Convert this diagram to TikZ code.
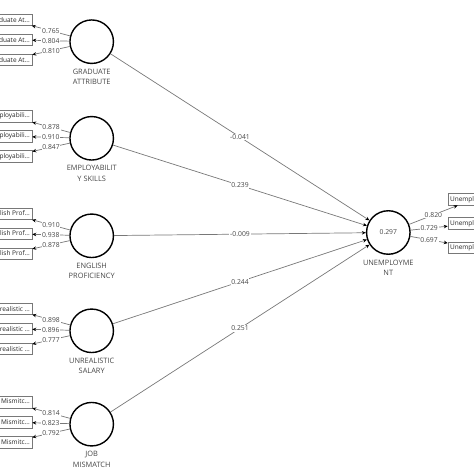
\documentclass[tikz,border=0pt]{standalone}
\usepackage{fontspec}
\setmainfont{Open Sans}
\usetikzlibrary{arrows.meta,positioning}
\definecolor{pathgray}{RGB}{120,120,120}
\definecolor{textgray}{RGB}{70,70,70}

\begin{document}
\begin{tikzpicture}[x=1pt, y=1pt,
  lv/.style={draw, circle, line width=1.4pt, minimum size=43.5pt, inner sep=0pt,
             font=\fontsize{6.8}{8}\selectfont, text=textgray},
  ind/.style={draw=pathgray, line width=0.6pt, minimum height=11.5pt, inner sep=2pt,
              font=\fontsize{6.5}{8}\selectfont, text=black!85},
  lvlab/.style={align=center, inner sep=1pt, font=\fontsize{7.4}{10.5}\selectfont, text=textgray},
  arr/.style={-{Stealth[length=4pt, width=3.5pt, color=black]}, pathgray, line width=0.7pt},
  coef/.style={midway, fill=white, inner sep=0.8pt, font=\fontsize{6.8}{8}\selectfont, text=textgray}
]
\useasboundingbox (0,0) rectangle (474,474);
\clip (0,0) rectangle (474,474);

% latent variables
\node[lv] (ga) at (91.7,432.3) {};
\node[lv] (es) at (91.7,335.7) {};
\node[lv] (ep) at (91.7,238.2) {};
\node[lv] (us) at (91.7,143.2) {};
\node[lv] (jm) at (91.7,49.8) {};
\node[lv] (un) at (388.3,241.5) {0.297};

\node[lvlab, below=3.5pt of ga] {GRADUATE\\ATTRIBUTE};
\node[lvlab, below=3.5pt of es] {EMPLOYABILIT\\Y SKILLS};
\node[lvlab, below=3.5pt of ep] {ENGLISH\\PROFICIENCY};
\node[lvlab, below=3.5pt of us] {UNREALISTIC\\SALARY};
\node[lvlab, below=3.5pt of jm] {JOB\\MISMATCH};
\node[lvlab, below=3.5pt of un] {UNEMPLOYME\\NT};

% indicators
\node[ind, left=37pt of ga, yshift=2pt] (ga2) {Graduate At...};
\node[ind, above=8pt of ga2] (ga1) {Graduate At...};
\node[ind, below=8pt of ga2] (ga3) {Graduate At...};

\node[ind, left=37pt of es, yshift=2pt] (es2) {Employabili...};
\node[ind, above=8pt of es2] (es1) {Employabili...};
\node[ind, below=8pt of es2] (es3) {Employabili...};

\node[ind, left=37pt of ep, yshift=2pt] (ep2) {English Prof...};
\node[ind, above=8pt of ep2] (ep1) {English Prof...};
\node[ind, below=8pt of ep2] (ep3) {English Prof...};

\node[ind, left=37pt of us, yshift=2pt] (us2) {Unrealistic ...};
\node[ind, above=8pt of us2] (us1) {Unrealistic ...};
\node[ind, below=8pt of us2] (us3) {Unrealistic ...};

\node[ind, left=37pt of jm, yshift=2pt] (jm2) {Job Mismitc...};
\node[ind, above=8pt of jm2] (jm1) {Job Mismitc...};
\node[ind, below=8pt of jm2] (jm3) {Job Mismitc...};

\node[ind, right=37pt of un, yshift=9pt] (un2) {Unemployme...};
\node[ind, above=12pt of un2] (un1) {Unemployme...};
\node[ind, below=12pt of un2] (un3) {Unemployme...};

% outer loadings
\foreach \i/\c in {1/0.765, 2/0.804, 3/0.810} \draw[arr] (ga) -- node[coef] {\c} (ga\i);
\foreach \i/\c in {1/0.878, 2/0.910, 3/0.847} \draw[arr] (es) -- node[coef] {\c} (es\i);
\foreach \i/\c in {1/0.910, 2/0.938, 3/0.878} \draw[arr] (ep) -- node[coef] {\c} (ep\i);
\foreach \i/\c in {1/0.898, 2/0.896, 3/0.777} \draw[arr] (us) -- node[coef] {\c} (us\i);
\foreach \i/\c in {1/0.814, 2/0.823, 3/0.792} \draw[arr] (jm) -- node[coef] {\c} (jm\i);
\foreach \i/\c in {1/0.820, 2/0.729, 3/0.697} \draw[arr] (un) -- node[coef] {\c} (un\i);

% path coefficients
\foreach \v/\c in {ga/{-0.041}, es/0.239, ep/{-0.009}, us/0.244, jm/0.251}
  \draw[arr] (\v) -- node[coef] {\c} (un);
\end{tikzpicture}
\end{document}
